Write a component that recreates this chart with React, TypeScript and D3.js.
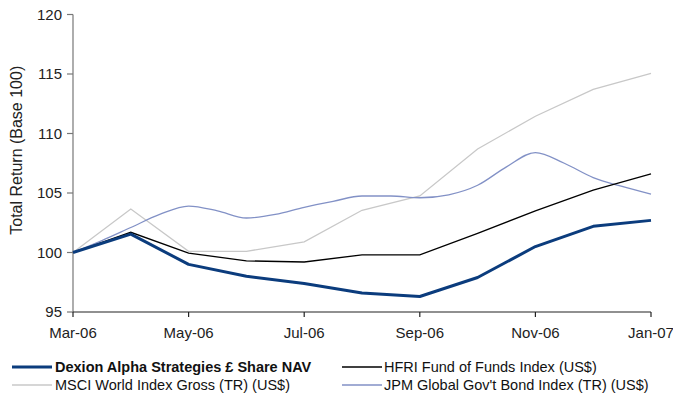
import React from 'react';
import * as d3 from 'd3';

// monthly observations, Mar-06 .. Jan-07
const months = ["Mar-06", "Apr-06", "May-06", "Jun-06", "Jul-06", "Aug-06", "Sep-06", "Oct-06", "Nov-06", "Dec-06", "Jan-07"];
const tickLabels = ["Mar-06", "May-06", "Jul-06", "Sep-06", "Nov-06", "Jan-07"];
const yTicks = [95, 100, 105, 110, 115, 120];

const dexion = [100, 101.55, 99.0, 98.0, 97.4, 96.6, 96.3, 97.9, 100.5, 102.2, 102.7];
const hfri = [100, 101.7, 99.95, 99.3, 99.2, 99.8, 99.8, 101.6, 103.5, 105.25, 106.6];
const msci = [100, 103.65, 100.1, 100.1, 100.9, 103.55, 104.75, 108.7, 111.45, 113.7, 115.05];
// bond index is sampled twice a month
const jpm = [100, 101.0, 102.1, 103.2, 103.9, 103.5, 102.9, 103.2, 103.8, 104.3, 104.75, 104.75, 104.6, 104.85, 105.65, 107.2, 108.4, 107.5, 106.3, 105.55, 104.9];

const seriesNames = [
  "Dexion Alpha Strategies £ Share NAV",
  "HFRI Fund of Funds Index (US$)",
  "MSCI World Index Gross (TR) (US$)",
  "JPM Global Gov't Bond Index (TR) (US$)",
];

const W = 673;
const H = 401;
const font = "'Liberation Sans', Arial, sans-serif";

function App() {
  const x = d3.scaleLinear().domain([0, months.length - 1]).range([73, 651]);
  const y = d3.scaleLinear().domain([95, 120]).range([312, 14.5]);

  const line = d3.line<number>()
    .x((d, i) => x(i))
    .y(d => y(d));
  const halfLine = d3.line<number>()
    .x((d, i) => x(i / 2))
    .y(d => y(d))
    .curve(d3.curveMonotoneX);

  const styles = [
    {color: "#0B3C7D", width: 3},
    {color: "#000000", width: 1.3},
    {color: "#C8C8C8", width: 1.3},
    {color: "#8291C6", width: 1.3},
  ];

  const legend = [
    {name: seriesNames[0], s: styles[0], lx: 12, tx: 55, ty: 367, bold: true},
    {name: seriesNames[1], s: styles[1], lx: 342, tx: 384, ty: 367, bold: false},
    {name: seriesNames[2], s: styles[2], lx: 12, tx: 55, ty: 385, bold: false},
    {name: seriesNames[3], s: styles[3], lx: 342, tx: 384, ty: 385, bold: false},
  ];

  return (
    <div style={{position: 'absolute', left: 0, top: 0}}>
      <svg width={W} height={H} style={{display: 'block', fontFamily: font}}>
        <rect width={W} height={H} fill="#fff"/>

        {/* y axis */}
        <line x1={73} x2={73} y1={y(120)} y2={y(95)} stroke="#777" strokeWidth={1.2}/>
        {yTicks.map(t => (
          <g key={t}>
            <line x1={67} x2={73} y1={y(t)} y2={y(t)} stroke="#777" strokeWidth={1.2}/>
            <text x={62} y={y(t)} dy="0.35em" textAnchor="end" fontSize={15} fill="#222">{t}</text>
          </g>
        ))}
        <text transform={`translate(22,${(y(95) + y(120)) / 2 - 13}) rotate(-90)`} textAnchor="middle"
              fontSize={16} fill="#222">Total Return (Base 100)</text>

        {/* x axis */}
        <line x1={x(0)} x2={x(months.length - 1)} y1={312} y2={312} stroke="#222" strokeWidth={1.2}/>
        {months.map((m, i) => tickLabels.includes(m) ? (
          <g key={m}>
            <line x1={x(i)} x2={x(i)} y1={312} y2={317} stroke="#222" strokeWidth={1.2}/>
            <text x={x(i)} y={338} textAnchor="middle" fontSize={15} fill="#222">{m}</text>
          </g>
        ) : null)}

        {/* series */}
        <path d={line(msci) || ""} fill="none" stroke={styles[2].color} strokeWidth={styles[2].width}/>
        <path d={halfLine(jpm) || ""} fill="none" stroke={styles[3].color} strokeWidth={styles[3].width}/>
        <path d={line(hfri) || ""} fill="none" stroke={styles[1].color} strokeWidth={styles[1].width}/>
        <path d={line(dexion) || ""} fill="none" stroke={styles[0].color} strokeWidth={styles[0].width}
              strokeLinejoin="round"/>

        {/* legend */}
        {legend.map(l => (
          <g key={l.name}>
            <line x1={l.lx} x2={l.lx + 40} y1={l.ty} y2={l.ty} stroke={l.s.color} strokeWidth={l.s.width}/>
            <text x={l.tx} y={l.ty} dy="0.35em" fontSize={14.5} fontWeight={l.bold ? 'bold' : 'normal'}
                  fill="#111">{l.name}</text>
          </g>
        ))}
      </svg>
    </div>
  );
}

export default App;
